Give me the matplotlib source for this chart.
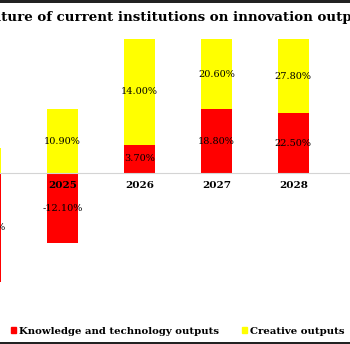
import matplotlib.pyplot as plt
import matplotlib.patches as ptch
import numpy as np

years = ['2024', '2025', '2026', '2027', '2028']
knowledge = [-19.40, -12.10, 3.70, 18.80, 22.50]   # knowledge and technology outputs, %
creative = [4.50, 10.90, 14.00, 20.60, 27.80]      # creative outputs, %

title = 'The nature of current institutions on innovation outputs'
red = '#ff0000'
yellow = '#ffff00'

W, H = 350, 344
fig = plt.figure(figsize=(W / 100, H / 100), dpi=100)

# share of each series in the column total (absolute values)
k = np.array(knowledge)
c = np.array(creative)
total = np.abs(k) + np.abs(c)
k_share = k / total
c_share = c / total
c_base = np.where(k_share > 0, k_share, 0)

# axes placed in pixels so the first column runs off the left edge
ax = fig.add_axes([-53 / W, 37 / H, 404 / W, 268 / H])
x = np.arange(len(years))
bk = ax.bar(x, k_share, width=0.4, color=red, linewidth=0)
bc = ax.bar(x, c_share, width=0.4, bottom=c_base, color=yellow, linewidth=0)

ax.set_xlim(-0.5, 4.75)
ax.set_ylim(-1, 1)
for s in ['left', 'right', 'top']:
    ax.spines[s].set_visible(False)
ax.spines['bottom'].set_position(('data', 0))
ax.spines['bottom'].set_color('#d4d4d4')
ax.set_yticks([])
ax.set_xticks(x, years, fontfamily='DejaVu Serif', fontweight='bold', fontsize=7.5)
ax.tick_params(axis='x', length=0, pad=6)

# value labels in the middle of each segment
for bars, vals in [(bk, knowledge), (bc, creative)]:
    ax.bar_label(bars, labels=['%.2f%%' % v for v in vals], label_type='center',
                 fontfamily='DejaVu Serif', fontsize=7)

# title: start cut off at the left edge
renderer = fig.canvas.get_renderer()
tkw = dict(fontfamily='DejaVu Serif', fontweight='bold', fontsize=9.6)
probe = fig.text(0, 0, 'The na', **tkw)
off = probe.get_window_extent(renderer).width
probe.remove()
fig.text(1 / W - off / W, 1 - 21 / H, title, va='baseline', ha='left', **tkw)

# legend
handles = [ptch.Patch(color=red, label='Knowledge and technology outputs'),
           ptch.Patch(color=yellow, label='Creative outputs')]
fig.legend(handles=handles, loc='center left', bbox_to_anchor=(11 / W, 1 - 331 / H),
           ncol=2, frameon=False, handlelength=0.5, handleheight=0.5,
           handletextpad=0.25, columnspacing=2.3, borderaxespad=0, borderpad=0,
           prop={'family': 'DejaVu Serif', 'weight': 'bold', 'size': 7.3})

# dark strips along top and bottom
fig.add_artist(ptch.Rectangle((0, 1 - 3 / H), 1, 3 / H, transform=fig.transFigure,
                              color='#222222', linewidth=0))
fig.add_artist(ptch.Rectangle((0, 0), 1, 2 / H, transform=fig.transFigure,
                              color='#222222', linewidth=0))

fig.savefig('out.png', dpi=100)
